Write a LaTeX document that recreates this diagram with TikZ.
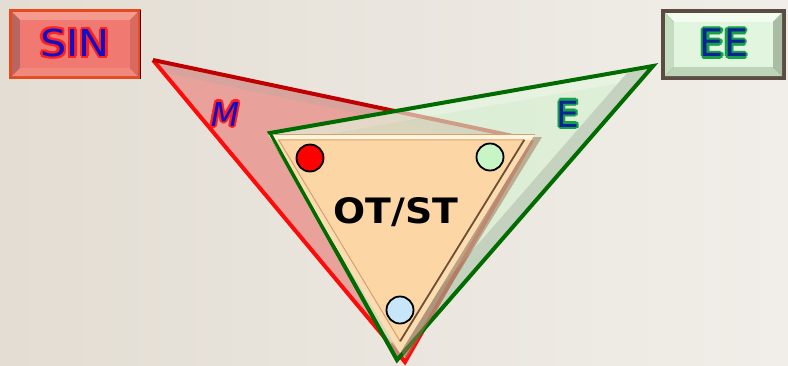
\documentclass[tikz,border=0pt]{standalone}
\usepackage{fontspec}
\setmainfont{DejaVu Sans}
\usetikzlibrary{calc}

\definecolor{bgl}{HTML}{E3DDD3}
\definecolor{bgr}{HTML}{F1EEE9}
\definecolor{sinrim}{HTML}{E64A1E}
\definecolor{sintop}{HTML}{F49A8E}
\definecolor{sinleft}{HTML}{B8665F}
\definecolor{sinbot}{HTML}{F0897C}
\definecolor{sinright}{HTML}{D86A62}
\definecolor{sinface}{HTML}{F07A72}
\definecolor{eerim}{HTML}{5A4C42}
\definecolor{eetop}{HTML}{F2FCEF}
\definecolor{eeleft}{HTML}{C5DCC0}
\definecolor{eebot}{HTML}{BED4B9}
\definecolor{eeright}{HTML}{A9BDA5}
\definecolor{eeface}{HTML}{E2F6DF}
\definecolor{mfill}{HTML}{E9A19B}
\definecolor{mband}{HTML}{D6A49C}
\definecolor{mdark}{HTML}{C00000}
\definecolor{mred}{HTML}{FF0A0A}
\definecolor{efill}{HTML}{D6F2D2}
\definecolor{eband}{HTML}{E4F7E0}
\definecolor{eshade}{HTML}{B0C6AC}
\definecolor{egreen}{HTML}{006C00}
\definecolor{otrim}{HTML}{FCDDB2}
\definecolor{ottop}{HTML}{FFF4DC}
\definecolor{otface}{HTML}{FDD6A6}
\definecolor{otdark}{HTML}{6E4E34}
\definecolor{otline}{HTML}{D4A070}
\definecolor{otshadow}{HTML}{A07858}
\definecolor{dotred}{HTML}{FF0000}
\definecolor{dotgreen}{HTML}{C8F5C6}
\definecolor{dotblue}{HTML}{C8E6FA}
\definecolor{inkblue}{HTML}{1010C8}
\definecolor{inknavy}{HTML}{0A2496}
\definecolor{halored}{HTML}{FF2020}
\definecolor{halogreen}{HTML}{18A048}

\tikzset{
  rim/.style={line width=4pt, line join=miter},
  dot/.style={circle, draw=black, line width=1.8pt, minimum size=27pt, inner sep=0pt},
}

% one offset copy of a word, taking no width
\newcommand\shiftcopy[3]{\makebox[0pt][l]{\kern#1\raisebox{#2}{#3}}}
% a word with a coloured rim round its letters: rim colour, ink colour, word
\newcommand\rimword[3]{%
  {\color{#1}%
   \shiftcopy{2.2pt}{0pt}{#3}\shiftcopy{-2.2pt}{0pt}{#3}%
   \shiftcopy{0pt}{2.2pt}{#3}\shiftcopy{0pt}{-2.2pt}{#3}%
   \shiftcopy{1.6pt}{1.6pt}{#3}\shiftcopy{-1.6pt}{1.6pt}{#3}%
   \shiftcopy{1.6pt}{-1.6pt}{#3}\shiftcopy{-1.6pt}{-1.6pt}{#3}}%
  \textcolor{#2}{#3}}

\begin{document}
\begin{tikzpicture}[x=1pt,y=-1pt]
\useasboundingbox (0,0) rectangle (788,365);
\shade[left color=bgl, right color=bgr] (0,0) rectangle (788,365);

% ---- SIN button
\fill[sinrim] (9,9) rectangle (141,79);
\draw[line width=1.5pt, black!70!red] (140.5,10) -- (140.5,79);
\fill[sintop] (12,12) -- (138,12) -- (130,20) -- (20,20) -- cycle;
\fill[sinleft] (12,12) -- (20,20) -- (20,68) -- (12,76) -- cycle;
\fill[sinbot] (12,76) -- (138,76) -- (130,68) -- (20,68) -- cycle;
\fill[sinright] (138,12) -- (138,76) -- (130,68) -- (130,20) -- cycle;
\fill[sinface] (20,20) rectangle (130,68);
\node[font=\fontsize{37}{40}\selectfont] (sin) at (75,43)
  {\scalebox{1.12}[1]{\rimword{halored}{inkblue}{SIN}}};

% ---- EE button
\fill[eerim] (661,9) rectangle (786,80);
\fill[eetop] (665,13) -- (782,13) -- (773,22) -- (674,22) -- cycle;
\fill[eeleft] (665,13) -- (674,22) -- (674,67) -- (665,76) -- cycle;
\fill[eebot] (665,76) -- (782,76) -- (773,67) -- (674,67) -- cycle;
\fill[eeright] (782,13) -- (782,76) -- (773,67) -- (773,22) -- cycle;
\fill[eeface] (674,22) rectangle (773,67);
\node[font=\fontsize{38}{40}\selectfont] (ee) at (724,43) {\rimword{halogreen}{inknavy}{EE}};

% ---- M triangle
\coordinate (A) at (153,60);
\coordinate (B) at (532,140);
\coordinate (C) at (405,362);
\fill[mfill] (A) -- (B) -- (C) -- cycle;
\begin{scope}
  \clip (A) -- (B) -- (C) -- cycle;
  \draw[line width=20pt, mband] (A) -- (B);
\end{scope}
\draw[rim, mred] (B) -- (C) -- (A);
\draw[rim, mdark] (A) -- (B);

% ---- E triangle
\coordinate (D) at (270,133);
\coordinate (E) at (653,66);
\coordinate (F) at (397,360);
\begin{scope}[opacity=0.65, transparency group]
  \fill[efill] (D) -- (E) -- (F) -- cycle;
  \clip (D) -- (E) -- (F) -- cycle;
  \draw[line width=22pt, eband] (D) -- (E);
  \draw[line width=30pt, eshade] (E) -- (F);
\end{scope}
\draw[rim, egreen] (D) -- (E) -- (F) -- cycle;

\node[font=\fontsize{33}{36}\itshape\selectfont] (m) at (225,114) {\rimword{halored}{inkblue}{M}};
\node[font=\fontsize{36}{38}\selectfont] (e) at (568,114) {\rimword{halogreen}{inknavy}{E}};

% ---- OT/ST triangle
\coordinate (P) at (268,134);
\coordinate (Q) at (535,134);
\coordinate (R) at (400,353);
\coordinate (G) at (401,207);
\fill[otshadow, opacity=0.55] ($(P)+(5,3)$) -- ($(Q)+(7,3)$) -- ($(R)+(6,6)$) -- cycle;
\fill[otrim] (P) -- (Q) -- (R) -- cycle;
\begin{scope}
  \clip (P) -- (Q) -- (R) -- cycle;
  \draw[line width=12pt, ottop] (P) -- (Q);
\end{scope}
\coordinate (Pi) at ($(P)!0.08!(G)$);
\coordinate (Qi) at ($(Q)!0.08!(G)$);
\coordinate (Ri) at ($(R)!0.08!(G)$);
\fill[otface] (Pi) -- (Qi) -- (Ri) -- cycle;
\draw[line width=1pt, otline] (Ri) -- (Pi) -- (Qi);
\draw[line width=1.8pt, otdark] (Qi) -- (Ri);
\draw[line width=1pt, otline] (P) -- (Q);
\draw[line width=3pt, egreen] (D) -- (F);

\node[dot, fill=dotred] (d1) at (310,158) {};
\node[dot, fill=dotgreen] (d2) at (490,157) {};
\node[dot, fill=dotblue] (d3) at (400,310) {};

\node[font=\bfseries\fontsize{35}{38}\selectfont] (ot) at (396,212) {\scalebox{1.08}[1]{OT/ST}};
\end{tikzpicture}
\end{document}
